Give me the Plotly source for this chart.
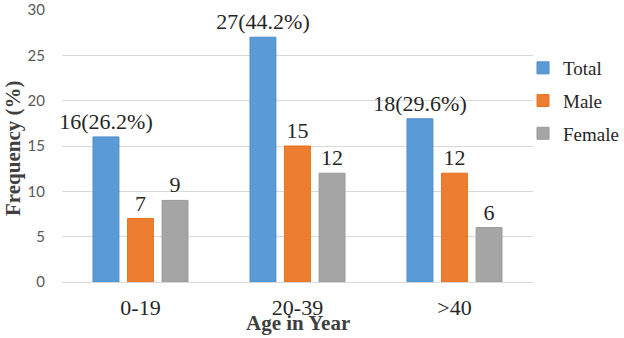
import plotly.graph_objects as go

categories = ["0-19", "20-39", ">40"]
total = [16, 27, 18]
total_pct = [26.2, 44.2, 29.6]
male = [7, 15, 12]
female = [9, 12, 6]
y_ticks = [0, 5, 10, 15, 20, 25, 30]

SERIF = "Liberation Serif, Times New Roman, serif"
SANS = "Lato, Liberation Sans, sans-serif"

total_text = [f"{v}({p}%)" for v, p in zip(total, total_pct)]

W, H = 624, 338
PL, PR, PT, PB = 62, 533, 10, 282  # plot area in pixels
PW, PH = PR - PL, PB - PT

fig = go.Figure()
series = [
    ("Total", total, total_text, "#5B9BD5", "#4A8CCB"),
    ("Male", male, [str(v) for v in male], "#ED7D31", "#E8731F"),
    ("Female", female, [str(v) for v in female], "#A5A5A5", "#999999"),
]
for name, vals, txt, col, line in series:
    fig.add_trace(go.Bar(
        name=name, x=categories, y=vals, text=txt,
        textposition="outside", cliponaxis=False, constraintext="none",
        textfont=dict(family=SERIF, size=22, color="#262626"),
        marker=dict(color=col, line=dict(color=line, width=1)),
        legendgroup=name, hoverinfo="skip",
    ))

fig.update_layout(
    width=W, height=H,
    margin=dict(l=PL, r=W - PR, t=PT, b=H - PB, autoexpand=False),
    paper_bgcolor="white", plot_bgcolor="white",
    barmode="group", bargap=0.34, bargroupgap=0.25,
    showlegend=True,
    legend=dict(
        x=(523 - PL) / PW, xanchor="left",
        y=(PB - 49) / PH, yanchor="top",
        font=dict(family=SERIF, size=19, color="#262626"),
        tracegroupgap=5, bgcolor="rgba(0,0,0,0)",
    ),
    xaxis=dict(
        showgrid=False, showline=False, zeroline=False, ticks="",
        tickfont=dict(family=SERIF, size=22, color="#262626"),
        ticklabelstandoff=10,
    ),
    yaxis=dict(
        range=[0, 30], tickvals=y_ticks, showgrid=True,
        gridcolor="#D9D9D9", gridwidth=1,
        zeroline=True, zerolinecolor="#D9D9D9", zerolinewidth=1,
        showline=False, ticks="",
        tickfont=dict(family=SANS, size=15, color="#595959"),
        ticklabelstandoff=16,
    ),
    annotations=[
        dict(text="<b>Frequency (%)</b>", textangle=-90, showarrow=False,
             xref="paper", yref="paper", x=(13 - PL) / PW, y=(PB - 148) / PH,
             xanchor="center", yanchor="middle",
             font=dict(family=SERIF, size=21, color="#404040")),
        dict(text="<b>Age in Year</b>", showarrow=False,
             xref="paper", yref="paper", x=0.5, y=-(323 - PB) / PH,
             xanchor="center", yanchor="middle",
             font=dict(family=SERIF, size=21, color="#404040")),
    ],
)

fig.write_html("out.html", config={"displayModeBar": False},
               post_script="document.body.style.margin='0';")
